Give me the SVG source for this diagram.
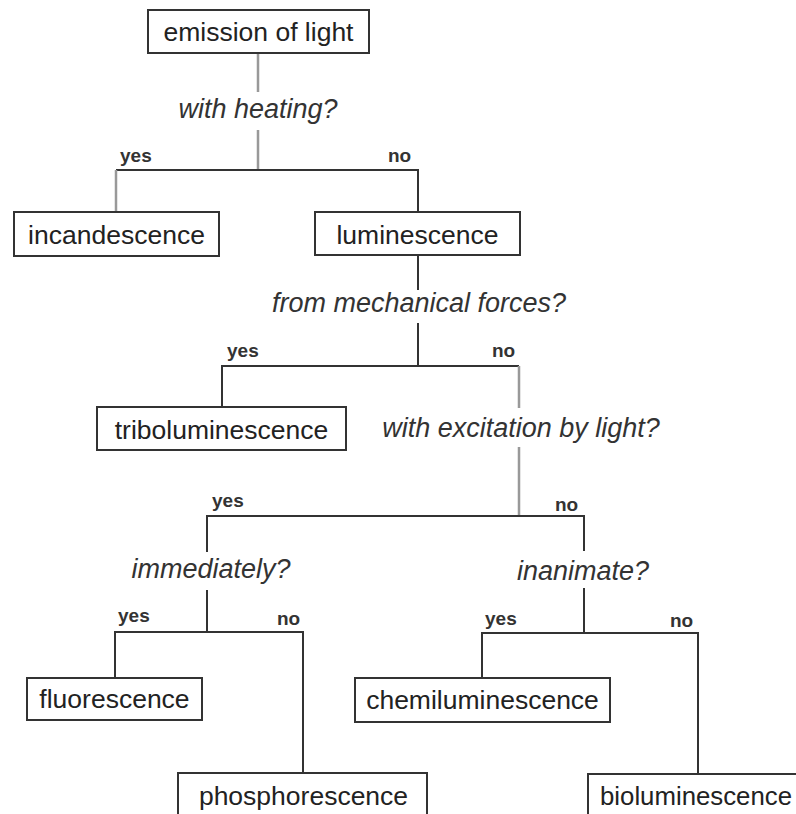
<svg xmlns="http://www.w3.org/2000/svg" width="796" height="814" viewBox="0 0 796 814">
<style>
.box{fill:#fff;stroke:#333;stroke-width:2}
.t{font-family:"Liberation Sans",Arial,sans-serif;font-size:26.5px;fill:#222;text-anchor:middle}
.q{font-family:"Liberation Sans",Arial,sans-serif;font-size:27px;font-style:italic;fill:#333;text-anchor:middle}
.l{font-family:"Liberation Sans",Arial,sans-serif;font-size:19px;font-weight:bold;fill:#333}
.d{fill:none;stroke:#333;stroke-width:2}
.g{fill:none;stroke:#999;stroke-width:2.5}
</style>
<rect width="796" height="814" fill="#fff"/>
<g id="connectors">
<path class="g" d="M258 53V92M258 130V170"/>
<path class="d" d="M116 170H418V212"/>
<path class="g" d="M116 170V212"/>
<path class="d" d="M418 255V290M418 323V366M222 407V366H519"/>
<path class="g" d="M519 366V408M519 447V516"/>
<path class="d" d="M207 552V516H584V551M207 590V632M115 678V632H303V773M584 588V633M482 678V633H698V774"/>
<text class="l" x="120" y="162">yes</text>
<text class="l" x="388" y="162">no</text>
<text class="l" x="227" y="357">yes</text>
<text class="l" x="492" y="357">no</text>
<text class="l" x="212" y="507">yes</text>
<text class="l" x="555" y="511">no</text>
<text class="l" x="118" y="622">yes</text>
<text class="l" x="277" y="625">no</text>
<text class="l" x="485" y="625">yes</text>
<text class="l" x="670" y="627">no</text>
</g>
<g id="emission"><rect class="box" x="148" y="10" width="221" height="43"/><text class="t" x="258.5" y="41">emission of light</text></g>
<g id="q-heating"><text class="q" x="258" y="118">with heating?</text></g>
<g id="incandescence"><rect class="box" x="14" y="212" width="205" height="44"/><text class="t" x="116.5" y="244">incandescence</text></g>
<g id="luminescence"><rect class="box" x="315" y="212" width="205" height="43"/><text class="t" x="417.5" y="244">luminescence</text></g>
<g id="q-mechanical"><text class="q" x="419" y="312">from mechanical forces?</text></g>
<g id="triboluminescence"><rect class="box" x="97" y="407" width="249" height="43"/><text class="t" x="221.5" y="439">triboluminescence</text></g>
<g id="q-excitation"><text class="q" x="521" y="437">with excitation by light?</text></g>
<g id="q-immediately"><text class="q" x="211" y="578">immediately?</text></g>
<g id="q-inanimate"><text class="q" x="583" y="580">inanimate?</text></g>
<g id="fluorescence"><rect class="box" x="27" y="678" width="175" height="42"/><text class="t" x="114.5" y="708">fluorescence</text></g>
<g id="chemiluminescence"><rect class="box" x="355" y="678" width="255" height="44"/><text class="t" x="482.5" y="709">chemiluminescence</text></g>
<g id="phosphorescence"><rect class="box" x="178" y="773" width="249" height="50"/><text class="t" x="303.5" y="805">phosphorescence</text></g>
<g id="bioluminescence"><rect class="box" x="588" y="774" width="230" height="50"/><text class="t" x="600" y="805" style="text-anchor:start" textLength="192" lengthAdjust="spacingAndGlyphs">bioluminescence</text></g>
</svg>
